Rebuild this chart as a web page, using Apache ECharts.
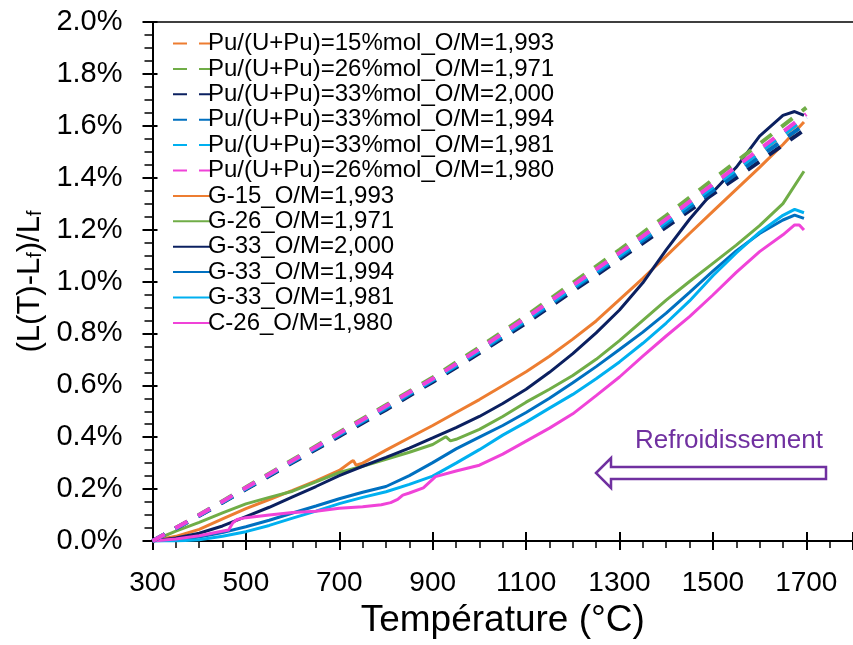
<!DOCTYPE html>
<html>
<head>
<meta charset="utf-8">
<script src="https://cdn.jsdelivr.net/npm/echarts@6/dist/echarts.min.js"></script>
<style>
html,body{margin:0;padding:0;background:#fff;}
#chart{width:853px;height:645px;}
</style>
</head>
<body>
<div id="chart"></div>
<script>
// ---- tick labels / axes ----
const xTicks = [300, 500, 700, 900, 1100, 1300, 1500, 1700];
const yTicks = [0, 0.2, 0.4, 0.6, 0.8, 1.0, 1.2, 1.4, 1.6, 1.8, 2.0];

// ---- model (dashed) curves, sampled every 100 °C ----
const modelTemps = [300, 400, 500, 600, 700, 800, 900, 1000, 1100, 1200, 1300, 1400, 1500, 1600, 1700];
const modelPu15_1993 = [0, 0.100, 0.204, 0.309, 0.413, 0.518, 0.622, 0.736, 0.855, 0.980, 1.104, 1.232, 1.367, 1.498, 1.630];
const modelPu26_1971 = [0, 0.101, 0.207, 0.313, 0.419, 0.524, 0.630, 0.747, 0.868, 0.995, 1.122, 1.254, 1.393, 1.531, 1.670];
const modelPu33_2000 = [0, 0.097, 0.199, 0.302, 0.404, 0.506, 0.613, 0.724, 0.840, 0.963, 1.086, 1.210, 1.337, 1.462, 1.590];
const modelPu33_1994 = [0, 0.098, 0.201, 0.305, 0.408, 0.511, 0.618, 0.730, 0.847, 0.971, 1.094, 1.221, 1.350, 1.480, 1.610];
const modelPu33_1981 = [0, 0.099, 0.203, 0.308, 0.412, 0.516, 0.621, 0.734, 0.853, 0.977, 1.101, 1.231, 1.365, 1.499, 1.633];
const modelPu26_1980 = [0, 0.100, 0.205, 0.310, 0.415, 0.520, 0.625, 0.740, 0.860, 0.985, 1.110, 1.240, 1.375, 1.510, 1.645];

// ---- measured (solid) curves: [temperature °C, (L(T)-Lf)/Lf in %] ----
const g15_1993 = [[300,0],[350,0.018],[400,0.045],[450,0.085],[500,0.125],[550,0.16],[600,0.195],[650,0.232],[700,0.272],[725,0.305],[730,0.31],[736,0.292],[750,0.3],[800,0.35],[850,0.398],[900,0.445],[950,0.495],[1000,0.545],[1050,0.598],[1100,0.652],[1150,0.712],[1200,0.778],[1250,0.848],[1300,0.93],[1350,1.012],[1400,1.098],[1450,1.185],[1500,1.27],[1550,1.355],[1600,1.44],[1650,1.528],[1695,1.615]];
const g26_1971 = [[300,0],[350,0.038],[400,0.072],[450,0.108],[500,0.143],[550,0.168],[600,0.192],[650,0.228],[700,0.264],[750,0.288],[800,0.315],[850,0.342],[900,0.372],[928,0.402],[938,0.386],[950,0.392],[1000,0.43],[1050,0.48],[1100,0.535],[1150,0.585],[1200,0.638],[1250,0.7],[1300,0.772],[1350,0.85],[1400,0.928],[1450,1.0],[1500,1.07],[1550,1.14],[1600,1.215],[1650,1.3],[1695,1.425]];
const g33_2000 = [[300,0],[350,0.012],[400,0.03],[450,0.058],[500,0.094],[550,0.13],[600,0.17],[650,0.21],[700,0.252],[750,0.288],[800,0.322],[850,0.358],[900,0.397],[950,0.437],[1000,0.48],[1050,0.53],[1100,0.585],[1150,0.65],[1200,0.722],[1250,0.802],[1300,0.89],[1350,0.995],[1400,1.122],[1450,1.24],[1500,1.345],[1550,1.44],[1600,1.56],[1650,1.64],[1675,1.655],[1695,1.64]];
const g33_1994 = [[300,0],[350,0.004],[400,0.015],[450,0.033],[500,0.055],[550,0.08],[600,0.108],[650,0.135],[700,0.163],[750,0.188],[800,0.21],[850,0.252],[900,0.302],[950,0.355],[1000,0.4],[1050,0.445],[1100,0.495],[1150,0.55],[1200,0.61],[1250,0.672],[1300,0.738],[1350,0.805],[1400,0.878],[1450,0.958],[1500,1.04],[1550,1.118],[1600,1.185],[1650,1.237],[1675,1.256],[1695,1.243]];
const g33_1981 = [[300,0],[350,0.0],[400,0.005],[450,0.018],[500,0.036],[550,0.06],[600,0.088],[650,0.115],[700,0.144],[750,0.168],[800,0.19],[850,0.218],[900,0.25],[950,0.3],[1000,0.352],[1050,0.408],[1100,0.458],[1150,0.512],[1200,0.565],[1250,0.625],[1300,0.69],[1350,0.762],[1400,0.84],[1450,0.925],[1500,1.022],[1550,1.11],[1600,1.19],[1650,1.255],[1675,1.278],[1695,1.265]];
const c26_1980 = [[300,0],[350,0.008],[400,0.02],[440,0.035],[463,0.042],[472,0.07],[481,0.083],[500,0.09],[550,0.1],[600,0.11],[650,0.115],[700,0.126],[750,0.132],[790,0.14],[810,0.148],[825,0.16],[836,0.177],[850,0.185],[880,0.205],[906,0.248],[950,0.27],[1000,0.292],[1050,0.335],[1100,0.385],[1150,0.435],[1200,0.49],[1250,0.56],[1300,0.632],[1350,0.712],[1400,0.79],[1450,0.865],[1500,0.948],[1550,1.035],[1600,1.115],[1650,1.18],[1675,1.218],[1685,1.218],[1695,1.198]];

const seriesNames = [
  'Pu/(U+Pu)=15%mol_O/M=1,993',
  'Pu/(U+Pu)=26%mol_O/M=1,971',
  'Pu/(U+Pu)=33%mol_O/M=2,000',
  'Pu/(U+Pu)=33%mol_O/M=1,994',
  'Pu/(U+Pu)=33%mol_O/M=1,981',
  'Pu/(U+Pu)=26%mol_O/M=1,980',
  'G-15_O/M=1,993',
  'G-26_O/M=1,971',
  'G-33_O/M=2,000',
  'G-33_O/M=1,994',
  'G-33_O/M=1,981',
  'C-26_O/M=1,980'
];
const colors = ['#ED7D31', '#70AD47', '#0B2060', '#0070C0', '#00B0F0', '#F043D8'];
const modelSets = [modelPu15_1993, modelPu26_1971, modelPu33_2000, modelPu33_1994, modelPu33_1981, modelPu26_1980];
const measuredSets = [g15_1993, g26_1971, g33_2000, g33_1994, g33_1981, c26_1980];

const FONT = "'Liberation Sans', Arial, sans-serif";

const series = [];
modelSets.forEach((arr, i) => {
  series.push({
    type: 'line', name: seriesNames[i], xAxisIndex: 0, yAxisIndex: 0,
    data: modelTemps.map((t, k) => [t, arr[k]]),
    symbol: 'none', silent: true, z: 3,
    lineStyle: { color: colors[i], width: 4, type: [14, 12], cap: 'butt' },
    itemStyle: { color: colors[i] }
  });
});
measuredSets.forEach((arr, i) => {
  series.push({
    type: 'line', name: seriesNames[6 + i], xAxisIndex: 0, yAxisIndex: 0,
    data: arr,
    symbol: 'none', silent: true, z: 2,
    lineStyle: { color: colors[i], width: 3 },
    itemStyle: { color: colors[i] }
  });
});

const chart = echarts.init(document.getElementById('chart'), null, { renderer: 'canvas' });
const xMin = xTicks[0], xStep = xTicks[1] - xTicks[0];
const option = {
  animation: false,
  backgroundColor: '#fff',
  textStyle: { fontFamily: FONT },
  grid: { left: 152.5, right: -10.5, top: 22, bottom: 104, containLabel: false },
  legend: {
    orient: 'vertical', left: 167, top: 26,
    itemWidth: 38, itemHeight: 14, itemGap: 0.4,
    selectedMode: false,
    itemStyle: { color: 'rgba(0,0,0,0)', borderWidth: 0, opacity: 0 },
    textStyle: { fontSize: 24, lineHeight: 25, color: '#000', fontFamily: FONT, padding: [0, 0, 0, -8] },
    data: seriesNames
  },
  xAxis: [
    {
      type: 'value', position: 'bottom', min: xMin, max: 1800, interval: xStep,
      axisLine: { show: true, onZero: false, lineStyle: { color: '#000', width: 2 } },
      axisTick: { show: true, length: 9, lineStyle: { color: '#000', width: 2 } },
      minorTick: { show: true, splitNumber: 4, length: 7, lineStyle: { color: '#000', width: 1.5 } },
      splitLine: { show: false },
      axisLabel: { show: true, showMaxLabel: false, margin: 28, fontSize: 28, color: '#000', fontFamily: FONT, formatter: v => String(v) },
      name: 'Température (°C)', nameLocation: 'middle', nameGap: 58,
      nameTextStyle: { fontSize: 37, color: '#000', fontFamily: FONT }
    },
    {
      type: 'value', position: 'bottom', min: xMin, max: 1800, interval: xStep,
      axisLine: { show: false, onZero: false },
      axisTick: { show: true, inside: true, length: 9, lineStyle: { color: '#000', width: 2 } },
      axisLabel: { show: false }, splitLine: { show: false }
    },
    {
      type: 'value', position: 'top', min: xMin, max: 1800,
      axisLine: { show: true, onZero: false, lineStyle: { color: '#000', width: 1.5 } },
      axisTick: { show: false }, axisLabel: { show: false }, splitLine: { show: false }
    }
  ],
  yAxis: [
    {
      type: 'value', position: 'left', min: yTicks[0], max: yTicks[yTicks.length - 1], interval: yTicks[1] - yTicks[0],
      axisLine: { show: true, onZero: false, lineStyle: { color: '#000', width: 2 } },
      axisTick: { show: true, length: 10, lineStyle: { color: '#000', width: 2 } },
      minorTick: { show: true, splitNumber: 4, length: 8, lineStyle: { color: '#000', width: 1.5 } },
      splitLine: { show: false },
      axisLabel: { margin: 30, fontSize: 29, color: '#000', fontFamily: FONT, formatter: v => v.toFixed(1) + '%' },
      name: '(L(T)-L{s|f})/L{s|f}', nameLocation: 'middle', nameGap: 102,
      nameTextStyle: {
        fontSize: 31, color: '#000', fontFamily: FONT,
        rich: { s: { fontSize: 20, lineHeight: 10, verticalAlign: 'bottom', fontFamily: FONT, color: '#000' } }
      }
    },
    {
      type: 'value', position: 'left', min: 0, max: 2, interval: 0.2,
      axisLine: { show: false, onZero: false },
      axisTick: { show: true, inside: true, length: 5, lineStyle: { color: '#000', width: 2 } },
      axisLabel: { show: false }, splitLine: { show: false }
    }
  ],
  series: series,
  graphic: [
    {
      type: 'text', left: 635, top: 428, z: 10,
      style: { text: 'Refroidissement', fontSize: 26, fontFamily: FONT, fill: '#7030A0' }
    },
    {
      type: 'polygon', z: 10,
      shape: { points: [[596, 473], [611, 458], [611, 467], [826, 467], [826, 479], [611, 479], [611, 488]] },
      style: { fill: '#fff', stroke: '#7030A0', lineWidth: 2.5 }
    }
  ]
};
chart.setOption(option);
</script>
</body>
</html>
